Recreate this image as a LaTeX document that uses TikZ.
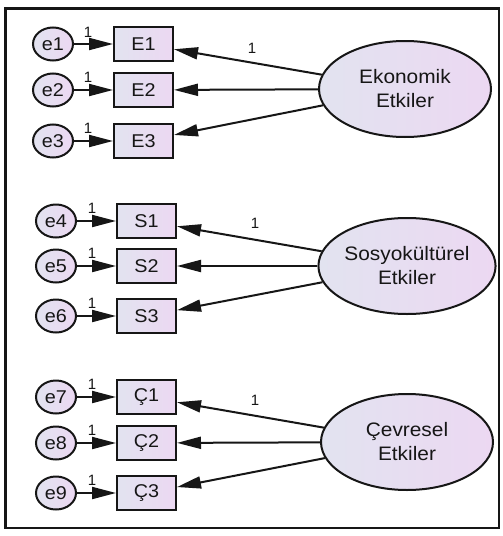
\documentclass[tikz,border=0pt]{standalone}
\usepackage{fontspec}
\usepackage{graphicx}
\setmainfont{Liberation Sans}
\usetikzlibrary{arrows.meta,shapes.geometric}
\definecolor{fillL}{RGB}{226,227,240}
\definecolor{fillR}{RGB}{236,216,242}
\definecolor{ink}{RGB}{22,22,22}
\newcommand{\stx}[1]{\scalebox{1.07}[1]{#1}}
\begin{document}
\begin{tikzpicture}[x=1pt,y=-1pt,
  lat/.style={ellipse, draw=ink, line width=2pt, minimum width=172pt, minimum height=96pt,
    left color=fillL, right color=fillR, align=center, text=ink, inner sep=0pt,
    font=\fontsize{19.5}{24}\selectfont},
  obs/.style={rectangle, draw=ink, line width=2pt, minimum width=59pt, minimum height=34pt,
    left color=fillL, right color=fillR, text=ink, inner sep=0pt,
    font=\fontsize{18.5}{20}\selectfont},
  err/.style={ellipse, draw=ink, line width=2pt, minimum width=40pt, minimum height=33pt,
    inner sep=0pt, left color=fillL, right color=fillR, text=ink,
    font=\fontsize{18.5}{20}\selectfont},
  lbl/.style={text=ink, inner sep=0pt, font=\fontsize{15}{16}\selectfont},
  arr/.style={-{Triangle[length=24pt,width=12pt]}, line width=2pt, draw=ink}
]
\useasboundingbox (0,0) rectangle (503,536);
\fill[white] (0,0) rectangle (503,536);
\draw[line width=2.4pt, draw=ink] (5.5,8.5) rectangle (499,528);

% Section 1
\node[lat] (Ek) at (405,89) {\stx{Ekonomik}\\\stx{Etkiler}};
\node[obs] (E1) at (143.5,44) {\stx{E1}};
\node[obs] (E2) at (143.5,90) {\stx{E2}};
\node[obs] (E3) at (143.5,141) {\stx{E3}};
\node[err] (e1) at (53,44) {\stx{e1}};
\node[err] (e2) at (53,90) {\stx{e2}};
\node[err] (e3) at (53,141) {\stx{e3}};
\draw[arr] (e1) -- (E1);
\draw[arr] (e2) -- (E2);
\draw[arr] (e3) -- (E3);
\draw[arr] (Ek) -- (E1);
\draw[arr] (Ek) -- (E2);
\draw[arr] (Ek) -- (E3);
\node[lbl] (l1) at (88,32) {1};
\node[lbl] (l2) at (88,77) {1};
\node[lbl] (l3) at (88,128) {1};
\node[lbl] (f1) at (252,48) {1};

% Section 2
\node[lat] (So) at (407,266) {\stx{Sosyokültürel}\\\stx{Etkiler}};
\node[obs] (S1) at (146.5,221) {\stx{S1}};
\node[obs] (S2) at (146.5,266) {\stx{S2}};
\node[obs] (S3) at (146.5,316) {\stx{S3}};
\node[err] (e4) at (56,221) {\stx{e4}};
\node[err] (e5) at (56,266) {\stx{e5}};
\node[err] (e6) at (56,316) {\stx{e6}};
\draw[arr] (e4) -- (S1);
\draw[arr] (e5) -- (S2);
\draw[arr] (e6) -- (S3);
\draw[arr] (So) -- (S1);
\draw[arr] (So) -- (S2);
\draw[arr] (So) -- (S3);
\node[lbl] (l4) at (92,208) {1};
\node[lbl] (l5) at (92,253) {1};
\node[lbl] (l6) at (92,303) {1};
\node[lbl] (f2) at (255,223) {1};

% Section 3
\node[lat] (Ce) at (407,442) {\stx{Çevresel}\\\stx{Etkiler}};
\node[obs] (C1) at (146.5,397) {\stx{Ç1}};
\node[obs] (C2) at (146.5,443) {\stx{Ç2}};
\node[obs] (C3) at (146.5,493) {\stx{Ç3}};
\node[err] (e7) at (56,397) {\stx{e7}};
\node[err] (e8) at (56,443) {\stx{e8}};
\node[err] (e9) at (56,493) {\stx{e9}};
\draw[arr] (e7) -- (C1);
\draw[arr] (e8) -- (C2);
\draw[arr] (e9) -- (C3);
\draw[arr] (Ce) -- (C1);
\draw[arr] (Ce) -- (C2);
\draw[arr] (Ce) -- (C3);
\node[lbl] (l7) at (92,384) {1};
\node[lbl] (l8) at (92,430) {1};
\node[lbl] (l9) at (92,480) {1};
\node[lbl] (f3) at (255,400) {1};
\end{tikzpicture}
\end{document}
